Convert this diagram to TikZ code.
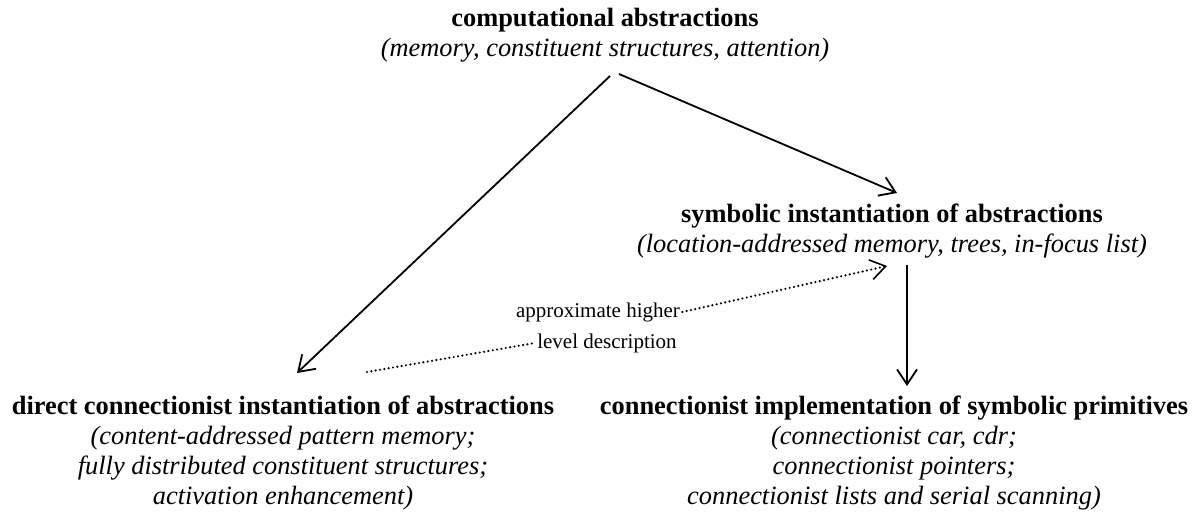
\documentclass[tikz,border=0pt]{standalone}
\usepackage{fontspec}
\setmainfont{Liberation Serif}
\usetikzlibrary{arrows.meta}
\tikzset{
	block/.style={align=center, inner sep=0pt, anchor=north, font=\fontsize{13.2}{15}\selectfont},
	note/.style={inner sep=1pt, font=\fontsize{10.5}{12}\selectfont},
	link/.style={line width=0.9pt, -{Straight Barb[length=7.5pt,width=10pt,line width=0.9pt]}},
	dots/.style={line width=1.2pt, line cap=round, dash pattern=on 0pt off 2.2pt},
	dotlink/.style={dots, -{Straight Barb[length=7.5pt,width=10pt,line width=0.8pt]}}
}
\begin{document}
\begin{tikzpicture}[x=0.5pt,y=-0.5pt]
	\useasboundingbox (0,0) rectangle (1204,517);
	\node (comp) at (605,8)   [block] {\textbf{computational abstractions}\\ \textit{(memory, constituent structures, attention)}};
	\node (symb) at (892,204) [block] {\textbf{symbolic instantiation of abstractions}\\ \textit{(location-addressed memory, trees, in-focus list)}};
	\node (dir)  at (283,396) [block] {\textbf{direct connectionist instantiation of abstractions}\\ \textit{(content-addressed pattern memory;}\\ \textit{fully distributed constituent structures;}\\ \textit{activation enhancement)}};
	\node (impl) at (894,396) [block] {\textbf{connectionist implementation of symbolic primitives}\\ \textit{(connectionist car, cdr;}\\ \textit{connectionist pointers;}\\ \textit{connectionist lists and serial scanning)}};
	\node (hi)   at (598,312) [note] {approximate higher};
	\node (lvl)  at (607,343) [note] {level description};
	% arrow ends
	\coordinate (apexL) at (610,76);
	\coordinate (apexR) at (619,74);
	\coordinate (tipL)  at (297,373);
	\coordinate (tipR)  at (897,193);
	\coordinate (topV)  at (907,265);
	\coordinate (tipV)  at (907,386);
	\coordinate (tipD)  at (887,266);
	\coordinate (tailD) at (367,372);
	\draw[link] (apexL) -- (tipL);
	\draw[link] (apexR) -- (tipR);
	\draw[link] (topV) -- (tipV);
	\draw[dotlink] (hi.east) -- (tipD);
	\draw[dots] (tailD) -- (lvl.west);
\end{tikzpicture}
\end{document}
